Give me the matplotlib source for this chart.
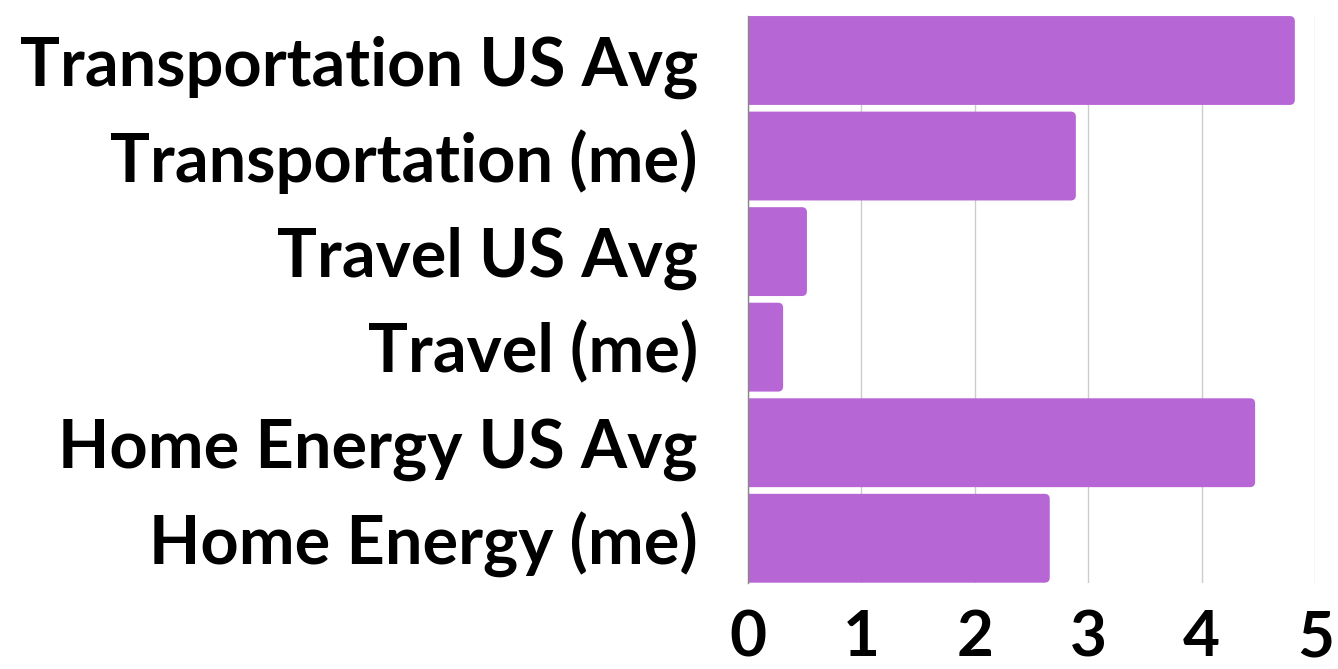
import matplotlib
matplotlib.use("Agg")
import matplotlib.pyplot as plt
from matplotlib.patches import FancyBboxPatch

categories = ["Transportation US Avg", "Transportation (me)", "Travel US Avg",
              "Travel (me)", "Home Energy US Avg", "Home Energy (me)"]
values = [4.82, 2.89, 0.52, 0.31, 4.47, 2.66]
xticks = [0, 1, 2, 3, 4, 5]

bar_h = 0.93
purple = "#b766d6"

fig = plt.figure(figsize=(13.38, 6.69), dpi=100)
ax = fig.add_axes([0.559, 0.129, 0.424, 0.847])

bars = ax.barh(range(len(categories)), values, height=bar_h, color=purple, zorder=2)

# swap the plain rectangles for ones with rounded right ends
r = 0.045
for b in bars:
    b.set_visible(False)
    x, y = b.get_x(), b.get_y()
    w, h = b.get_width(), b.get_height()
    p = FancyBboxPatch((x - 2 * r, y), w + 2 * r, h,
                       boxstyle=f"round,pad=0,rounding_size={r}",
                       mutation_aspect=1.2, facecolor=purple,
                       edgecolor="none", zorder=2)
    ax.add_patch(p)

ax.set_ylim(len(categories) - 1 + bar_h / 2, -bar_h / 2)
ax.set_xlim(0, 5)
ax.set_yticks(range(len(categories)))
ax.set_yticklabels(categories)
ax.set_xticks(xticks)

for s in ["top", "right", "bottom"]:
    ax.spines[s].set_visible(False)
ax.spines["left"].set_color("#888888")
ax.spines["left"].set_linewidth(1)

ax.grid(axis="x", color="#cccccc", linewidth=1, zorder=0)
ax.tick_params(axis="both", length=0)
ax.tick_params(axis="y", pad=36)
ax.tick_params(axis="x", pad=19)

for lbl in ax.get_yticklabels():
    lbl.set_fontsize(48)
    lbl.set_fontweight("bold")
    lbl.set_fontfamily("Lato")
for lbl in ax.get_xticklabels():
    lbl.set_fontsize(46)
    lbl.set_fontweight("bold")
    lbl.set_fontfamily("Lato")

fig.savefig("out.png", dpi=100)
